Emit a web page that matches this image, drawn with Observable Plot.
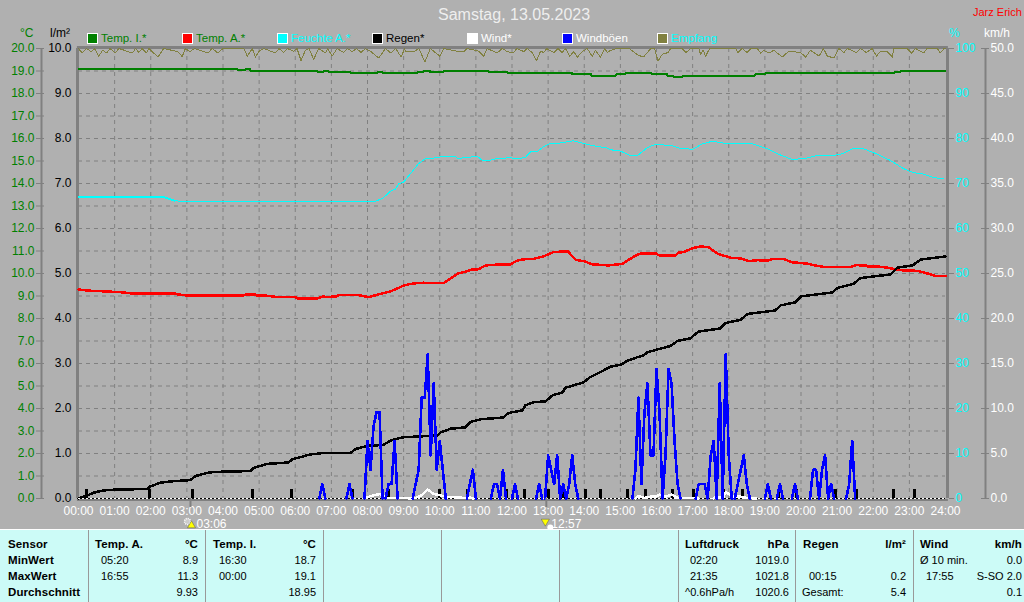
<!DOCTYPE html>
<html><head><meta charset="utf-8">
<script src="https://cdn.jsdelivr.net/npm/d3@7"></script>
<script src="https://cdn.jsdelivr.net/npm/@observablehq/plot@0.6"></script>
<style>
html,body{margin:0;padding:0;background:#b0b0b0;overflow:hidden}
#page{position:relative;width:1024px;height:602px;font-family:"Liberation Sans",Arial,sans-serif}
#page svg{display:block;background:#b0b0b0}
.abs{position:absolute;white-space:nowrap;line-height:14px}
#table{position:absolute;left:0;top:529px;width:1024px;height:73px;background:#ccfbf7;border-top:1px solid #fff;box-sizing:border-box;font-size:11px;color:#000}
#table .b{font-weight:bold;font-size:11.5px;letter-spacing:.1px}
.sep{position:absolute;top:0;bottom:0;width:1px;border-left:1px solid #999}
.sw{position:absolute;width:9px;height:9px;border:1px solid #fff}
</style></head><body>
<div id="page"></div>
<script>
// ---------- scale ticks ----------
const hourTicks = [0,1,2,3,4,5,6,7,8,9,10,11,12,13,14,15,16,17,18,19,20,21,22,23,24];
const litreTicks = [0,1,2,3,4,5,6,7,8,9,10];
const halfTicks = [0.5,1,1.5,2,2.5,3,3.5,4,4.5,5,5.5,6,6.5,7,7.5,8,8.5,9,9.5];
const celsiusTicks = [0,.5,1,1.5,2,2.5,3,3.5,4,4.5,5,5.5,6,6.5,7,7.5,8,8.5,9,9.5,10];

// ---------- Temp. I. (°C) ----------
const tempIHour = [0,4.24,4.40,4.62,4.76,6.42,6.62,6.78,6.92,7.53,8.28,8.42,9.38,9.55,9.74,10.10,11.35,11.88,12.0,13.67,14.20,14.89,15.14,15.86,16.30,16.47,16.72,18.74,19.02,22.59,22.75,24];
const tempIValue = [19.11,19.08,19.04,19.08,19.02,18.99,18.95,18.99,18.95,18.92,18.95,18.92,18.95,18.98,18.95,18.98,18.95,18.92,18.90,18.86,18.80,18.86,18.92,18.86,18.80,18.74,18.80,18.86,18.92,18.95,18.99,18.99];

// ---------- Temp. A. (°C) ----------
const tempAHour = [0,.25,.66,1.16,1.49,2.69,2.74,3.02,4.57,4.62,4.90,4.95,5.23,5.51,6.01,6.06,6.62,6.78,6.89,7.17,7.20,7.75,8.03,8.30,8.64,8.86,9.00,9.27,9.55,9.66,10.10,10.49,10.66,10.91,11.07,11.27,11.54,11.60,11.96,12.15,12.37,12.60,12.87,13.15,13.54,13.76,13.98,14.23,14.67,15.06,15.20,15.47,15.61,15.97,16.06,16.53,16.61,16.75,17.02,17.22,17.44,17.69,18.05,18.33,18.55,18.80,19.10,19.21,19.52,19.76,20.21,20.35,20.68,21.37,21.51,21.79,21.84,22.15,22.42,22.84,23.22,23.64,23.75,24];
const tempAValue = [9.29,9.24,9.21,9.17,9.11,9.11,9.07,9.02,9.02,9.07,9.07,9.02,9.01,8.95,8.95,8.90,8.90,8.98,8.95,8.99,9.04,9.04,8.95,9.07,9.21,9.36,9.47,9.56,9.59,9.57,9.57,9.99,10.06,10.18,10.19,10.36,10.39,10.41,10.41,10.58,10.64,10.65,10.76,10.95,10.99,10.61,10.55,10.41,10.36,10.43,10.58,10.84,10.90,10.90,10.81,10.81,10.93,10.95,11.14,11.20,11.17,10.88,10.70,10.67,10.55,10.59,10.58,10.64,10.64,10.50,10.43,10.37,10.28,10.28,10.37,10.36,10.31,10.31,10.25,10.13,10.12,9.94,9.88,9.88];

// ---------- Feuchte A. (%) ----------
const humHour = [0,2.35,2.66,2.96,8.17,8.42,8.64,8.78,8.86,9.0,9.19,9.41,9.61,9.97,10.02,10.44,10.52,10.71,11.05,11.18,11.35,11.60,11.96,12.15,12.37,12.51,12.71,12.84,13.04,13.34,13.70,14.03,14.37,14.59,14.73,15.00,15.28,15.47,15.75,15.97,16.44,16.66,17.00,17.27,17.55,17.99,18.66,19.07,19.35,19.76,20.21,20.46,20.90,21.18,21.45,21.70,22.06,22.48,22.84,23.11,23.39,23.67,23.94];
const humValue = [67.0,67.0,66.2,65.9,65.9,66.7,68.3,68.8,69.9,70.3,72.2,74.4,75.6,75.7,75.9,75.9,75.5,75.8,76.0,75.1,75.1,75.6,75.7,75.5,75.8,77.0,77.2,78.0,78.8,79.0,79.5,78.8,78.2,78.0,77.5,77.2,76.2,76.2,78.0,78.7,78.4,77.8,77.6,78.8,79.4,78.8,78.8,77.7,76.6,75.3,75.7,76.3,76.2,76.7,77.8,77.8,76.7,75.1,73.3,72.4,72.1,71.3,71.1];
const humEarlyHour = [0,2.35,2.66];
const humEarlyValue = [67.0,67.0,66.2];

// ---------- Regen, cumulative (l/m²) ----------
const rainHour = [0,.25,.42,.69,1.08,1.91,1.99,2.27,2.55,3.10,3.24,3.57,3.74,4.76,4.84,5.23,5.81,5.92,6.42,6.78,7.53,7.67,8.00,8.44,8.64,8.97,9.47,9.94,10.02,10.30,10.71,10.85,11.13,11.76,11.90,12.29,12.37,12.60,12.93,13.12,13.40,13.48,13.98,14.17,14.45,14.73,15.00,15.22,15.47,15.64,15.75,16.11,16.39,16.58,16.94,17.16,17.77,17.91,18.33,18.52,19.29,19.43,19.85,19.99,20.87,21.01,21.45,21.65,22.48,22.67,23.09,23.31,24];
const rainValue = [0,.07,.13,.18,.20,.21,.27,.35,.38,.41,.50,.57,.59,.61,.68,.77,.80,.87,.98,1.01,1.01,1.10,1.17,1.19,1.29,1.36,1.38,1.40,1.47,1.55,1.58,1.70,1.76,1.80,1.90,1.96,2.07,2.14,2.16,2.29,2.36,2.46,2.58,2.70,2.81,2.93,2.97,3.07,3.14,3.18,3.25,3.33,3.39,3.50,3.56,3.71,3.78,3.90,3.97,4.10,4.18,4.29,4.36,4.49,4.58,4.68,4.77,4.90,4.98,5.13,5.18,5.31,5.38];

// ---------- single 0.2 l/m² rain tips ----------
const tipHour = [.22,1.97,3.16,4.82,5.90,7.58,8.58,9.99,10.77,11.85,12.35,13.01,13.43,14.03,14.45,15.20,15.70,16.44,17.02,17.85,18.38,19.38,19.88,20.96,21.54,22.56,23.14];
const tipAmount = 0.2;

// ---------- Windböen (km/h), time in minutes ----------
const gustMinute = [400,405,410,445,450,455,475,480,485,490,495,500,505,510,515,520,525,530,555,560,565,570,575,580,585,590,595,600,605,610,645,650,655,660,685,690,695,700,705,710,720,725,730,760,765,770,775,780,785,790,795,800,805,810,815,820,825,830,920,925,930,935,940,945,950,955,960,965,970,975,980,985,990,995,1000,1025,1030,1035,1040,1045,1050,1055,1060,1065,1070,1075,1080,1085,1090,1095,1100,1105,1110,1115,1140,1145,1150,1160,1165,1170,1185,1190,1195,1215,1220,1225,1230,1235,1240,1245,1250,1255,1275,1280,1285,1290];
const gustKmh = [0,1.6,0,0,1.6,0,0,6.4,3.2,8.0,9.6,9.6,0,0,1.6,1.6,6.4,0,0,1.6,3.2,11.2,11.2,16.0,4.8,12.8,3.2,6.4,3.2,0,0,1.6,3.2,0,0,1.6,1.6,0,3.2,0,0,1.6,0,0,1.6,0,0,4.8,3.2,1.6,4.8,0,1.6,0,1.6,4.8,1.6,0,0,3.2,11.2,1.6,9.6,12.8,4.8,4.8,14.4,9.6,0,4.8,14.4,12.8,6.4,1.6,0,0,1.6,1.6,1.6,0,4.8,6.4,0,12.8,0,16.0,4.8,0,0,1.6,3.2,4.8,1.6,0,0,1.6,0,0,1.6,0,0,1.6,0,0,3.2,3.2,0,3.2,4.8,0,1.6,0,0,1.6,6.4,0];

// ---------- Wind, average (km/h), time in minutes ----------
const windMinute = [475,485,500,505,510,535,555,560,570,580,590,600,610,640,645,650,655,925,930,940,950,960,965,975,985,995,1020,1030,1055,1060,1070,1075,1085,1100,1110,1125];
const windKmh = [0,.26,.5,.37,.07,.07,0,.07,.37,1.0,.5,.37,.2,.07,0,.1,0,0,.26,.07,.2,.2,.44,.2,.44,.07,.07,0,0,.26,0,.74,.26,.2,.07,0];

// ---------- Empfang (%) ----------
const signalHour = [0,.10,.22,.35,.44,.56,.67,.78,.87,1.02,1.12,1.49,1.58,1.67,1.76,1.88,1.95,2.20,2.36,2.75,2.87,2.96,3.08,3.21,3.58,3.70,3.86,4.00,4.58,4.67,4.81,4.90,5.00,5.13,5.45,5.55,5.68,5.78,5.96,6.05,6.16,6.28,6.38,6.51,6.65,6.84,6.90,7.02,7.16,7.34,7.44,7.58,7.70,7.82,7.94,8.08,8.31,8.50,8.64,8.78,8.93,9.03,9.05,9.28,9.42,9.59,9.74,10.00,10.11,10.53,10.67,10.76,11.08,11.22,11.31,11.59,11.73,11.87,12.03,12.14,12.33,12.42,12.56,12.68,12.79,12.88,12.96,13.16,13.27,13.39,13.48,13.60,13.71,13.81,13.94,14.08,14.22,14.31,14.45,14.57,14.64,14.73,14.91,15.24,15.36,15.51,15.65,15.84,15.95,16.04,16.16,16.32,16.39,16.71,16.82,16.94,17.17,17.22,17.29,17.36,17.47,18.19,18.25,18.37,18.51,18.62,18.79,18.88,18.97,19.11,19.25,19.48,19.66,19.99,20.13,20.26,20.50,20.62,20.73,20.91,21.05,21.19,21.28,21.54,21.65,21.81,21.97,22.09,22.20,22.39,22.53,22.57,22.94,23.06,23.17,23.40,23.49,23.77,23.86,23.96,24];
const signalValue = [100,99,100,99.3,100,98.3,99.6,99,100,99,100,99,100,99.1,100,99,100,98.1,100,99.3,98.2,100,99.3,100,99,100,99,100,100,98.3,100,98.1,99.4,100,99,100,99.1,100,99.4,100,97.3,99.6,100,97.6,100,99,100,98.3,100,99.1,100,99.3,100,99.1,100,99.4,97.9,100,99,100,98.1,100,99.3,99.3,100,97,100,98.3,100,99.3,99.3,100,99.4,98.3,100,99,100,99.3,99,100,99.3,100,99.1,97.3,99.4,99.1,100,99.1,100,99.1,100,98.3,99.3,98.1,99.3,100,98.3,99.6,98.1,100,99.1,99.6,100,100,99.3,98.4,98.2,100,100,97.2,98.7,99.1,100,100,99.1,100,100,98.7,99.7,98.3,100,100,99.1,100,99.1,100,100,99,99.6,99,99.6,98.1,99.4,99.1,98.1,99.6,98.3,100,98.3,97.9,100,99.1,100,99.1,100,99.1,100,98.3,99.4,99.3,98.1,100,100,99,100,99,100,100,99,100,100];

// ---------- Sun ----------
const sunriseHour = 3.1, sunriseLabel = "03:06";
const sunsetHour = 12.95, sunsetLabel = "12:57";

// ---------- legend ----------
const legendNames = ["Temp. I.*","Temp. A.*","Feuchte A.*","Regen*","Wind*","Windböen","Empfang"];
const legendSwatch = ["#008000","#ff0000","#00ffff","#000000","#ffffff","#0000ff","#808040"];
const legendInk = ["#008000","#008000","#00ffff","#000000","#ffffff","#ffffff","#00ffff"];

// ---------- summary table: text ----------
const tableCols = [88,205,323,441,559,678,795,913];
const tableCells = [
 ["Sensor",8,0,"b"],["MinWert",8,1,"b"],["MaxWert",8,2,"b"],["Durchschnitt",8,3,"b"],
 ["Temp. A.",95,0,"b"],["°C",198,0,"br"],["05:20",101,1],["8.9",198,1,"r"],["16:55",101,2],["11.3",198,2,"r"],["9.93",198,3,"r"],
 ["Temp. I.",213,0,"b"],["°C",316,0,"br"],["16:30",219,1],["18.7",316,1,"r"],["00:00",219,2],["19.1",316,2,"r"],["18.95",316,3,"r"],
 ["Luftdruck",685,0,"b"],["hPa",789,0,"br"],["02:20",690,1],["1019.0",789,1,"r"],["21:35",690,2],["1021.8",789,2,"r"],["^0.6hPa/h",685,3],["1020.6",789,3,"r"],
 ["Regen",803,0,"b"],["l/m²",906,0,"br"],["00:15",809,2],["0.2",906,2,"r"],["Gesamt:",802,3],["5.4",906,3,"r"],
 ["Wind",920,0,"b"],["km/h",1022,0,"br"],["Ø 10 min.",920,1],["0.0",1022,1,"r"],["17:55",926,2],["S-SO 2.0",1022,2,"r"],["0.1",1022,3,"r"]
];

// ---------- helpers ----------
const rows = (t, v, k, tk = 1) => t.map((h, i) => ({h: h * tk, y: v[i] * k}));
// the wind traces are not drawn where they rest at zero
const liftZeros = pts => pts.flatMap((p, i) =>
  i > 0 && p.y === 0 && pts[i - 1].y === 0 ? [{h: p.h, y: NaN}, p] : [p]);
const GRID = "#808080";
const lineOf = (data, stroke, strokeWidth, extra = {}) =>
  Plot.line(data, {x: "h", y: "y", stroke, strokeWidth, shapeRendering: "crispEdges", ...extra});

const chart = Plot.plot({
  width: 1024, height: 528,
  marginTop: 48, marginBottom: 30, marginLeft: 78, marginRight: 79,
  style: {background: "#b0b0b0", fontFamily: "'Liberation Sans',Arial,sans-serif", fontSize: "12px", overflow: "visible"},
  x: {domain: [0, 24], axis: null},
  y: {domain: [0, 10], axis: null},
  marks: [
    Plot.gridX(hourTicks.slice(1, -1), {stroke: GRID, strokeOpacity: 1, strokeDasharray: "4,4"}),
    Plot.gridY(halfTicks, {stroke: GRID, strokeOpacity: 1, strokeDasharray: "4,4"}),

    // frame
    Plot.ruleY([10], {x1: -0.03, x2: 24.08, stroke: GRID, strokeWidth: 3, dy: -1}),
    Plot.ruleY([0], {x1: -0.03, x2: 24.08, stroke: GRID, strokeWidth: 2, dy: 1.5}),
    Plot.ruleX([0], {y1: 0, y2: 10, stroke: GRID, strokeWidth: 3, dx: -1}),
    Plot.ruleX([24], {y1: 0, y2: 10, stroke: GRID, strokeWidth: 3, dx: 2}),

    // outer axis lines
    Plot.ruleX([0], {y1: 0, y2: 10, stroke: GRID, strokeWidth: 2, dx: -37}),
    Plot.ruleX([24], {y1: 0, y2: 10, stroke: GRID, strokeWidth: 2, dx: 40}),

    // axes
    Plot.axisY(celsiusTicks, {anchor: "left", dx: -34, tickSize: 8, tickPadding: 2, stroke: GRID, fill: "#008000", label: null, fontSize: 12, tickFormat: d => (d * 2).toFixed(1)}),
    Plot.axisY(litreTicks, {anchor: "left", tickSize: 0, tickPadding: 7, fill: "#000", label: null, fontSize: 12, tickFormat: d => d.toFixed(1)}),
    Plot.axisY(litreTicks, {anchor: "right", dx: 3, tickSize: 5, tickPadding: 2, stroke: GRID, fill: "#00ffff", label: null, fontSize: 12, tickFormat: d => String(d * 10)}),
    Plot.axisY(litreTicks, {anchor: "right", dx: 35, tickSize: 8, tickPadding: 2, stroke: GRID, fill: "#fff", label: null, fontSize: 12, tickFormat: d => (d * 5).toFixed(1)}),
    Plot.axisX(hourTicks, {anchor: "bottom", tickSize: 0, tickPadding: 8, fill: "#fff", label: null, fontSize: 12, tickFormat: d => String(d).padStart(2, "0") + ":00"}),

    // series
    lineOf(rows(signalHour, signalValue, .1), "#808040", 1),
    lineOf(rows(tempIHour, tempIValue, .5), "#008000", 2, {curve: "step-after"}),
    lineOf(rows(tempAHour, tempAValue, .5), "#ff0000", 2.5),
    lineOf(rows(humHour, humValue, .1), "#00ffff", 1),
    lineOf(rows(humEarlyHour, humEarlyValue, .1), "#00ffff", 2),
    lineOf(rows(rainHour, rainValue, 1), "#000", 2.5),

    // baseline dots
    Plot.ruleY([0], {stroke: "#000"}),
    Plot.ruleY([0], {stroke: "#fff", strokeDasharray: "2,2"}),

    // rain tips
    Plot.ruleX(tipHour, {y1: 0, y2: tipAmount, stroke: "#000", strokeWidth: 3.5, shapeRendering: "crispEdges"}),

    lineOf(liftZeros(rows(windMinute, windKmh, .2, 1 / 60)), "#fff", 2.5),
    lineOf(liftZeros(rows(gustMinute, gustKmh, .2, 1 / 60)), "#0000ff", 2.6),

    // sunrise / sunset
    Plot.ruleX([sunriseHour, sunsetHour], {y1: 0, y2: -0.2, stroke: GRID, strokeWidth: 2}),
    Plot.dot([sunriseHour], {x: d => d, y: 0, dx: -3, dy: 23, r: 3, stroke: "#fff", fill: "#ccc", strokeDasharray: "1,1"}),
    Plot.dot([sunriseHour], {x: d => d, y: 0, dx: 1, dy: 27, r: 3, symbol: "triangle", fill: "#ffff00", stroke: "#555", strokeWidth: .5}),
    Plot.text([sunriseHour], {x: d => d, y: 0, dx: 6, dy: 26, text: () => sunriseLabel, textAnchor: "start", fill: "#fff", fontSize: 12}),
    Plot.dot([sunsetHour], {x: d => d, y: 0, dx: 4, dy: 29, r: 3, fill: "#fff"}),
    Plot.dot([sunsetHour], {x: d => d, y: 0, dx: -1, dy: 23, r: 3, symbol: "triangle", rotate: 180, fill: "#ffff00", stroke: "#555", strokeWidth: .5}),
    Plot.text([sunsetHour], {x: d => d, y: 0, dx: 5, dy: 26, text: () => sunsetLabel, textAnchor: "start", fill: "#fff", fontSize: 12})
  ]
});

const page = document.getElementById("page");
page.appendChild(chart);

const addText = (parent, text, left, top, css = "") => {
  const el = document.createElement("div");
  el.className = "abs";
  el.textContent = text;
  el.style.cssText = `left:${left}px;top:${top}px;${css}`;
  parent.appendChild(el);
  return el;
};

// title and corner labels
addText(page, "Samstag, 13.05.2023", 438, 6, "color:#eee;font-size:16px;line-height:18px;font-weight:300");
addText(page, "Jarz Erich", 973, 5, "color:#f00;font-size:11px");
addText(page, "°C", 20, 26, "color:#008000;font-size:12px");
addText(page, "l/m²", 50, 26, "color:#000;font-size:12px");
addText(page, "%", 949, 26, "color:#00ffff;font-size:12px");
addText(page, "km/h", 984, 26, "color:#fff;font-size:12px");

// legend
legendNames.forEach((name, i) => {
  const sw = document.createElement("div");
  sw.className = "sw";
  sw.style.cssText = `left:${87 + i * 95}px;top:33px;background:${legendSwatch[i]}`;
  page.appendChild(sw);
  addText(page, name, 101 + i * 95, 31, `color:${legendInk[i]};font-size:11.5px`);
});

// summary table
const table = document.createElement("div");
table.id = "table";
page.appendChild(table);
tableCols.forEach(x => {
  const s = document.createElement("div");
  s.className = "sep";
  s.style.left = x + "px";
  table.appendChild(s);
});
const rowTop = [7, 23, 39, 55];
tableCells.forEach(([text, x, row, kind = ""]) => {
  const right = kind.includes("r");
  const el = addText(table, text, right ? 0 : x, rowTop[row], right ? `left:auto;right:${1024 - x}px` : "");
  if (kind.includes("b")) el.classList.add("b");
});
</script>
</body></html>
